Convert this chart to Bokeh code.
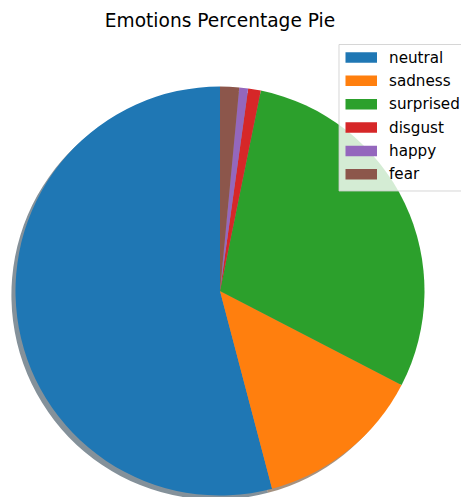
import numpy as np
from bokeh.plotting import figure
from bokeh.models import ColumnDataSource, Range1d
from bokeh.core.properties import value
from bokeh.embed import file_html
from bokeh.resources import INLINE

# Share of each emotion, in percent
emotions = ["neutral", "sadness", "surprised", "disgust", "happy", "fear"]
percent = [54.1, 13.3, 29.4, 1.0, 0.7, 1.5]
colors = ["#1f77b4", "#ff7f0e", "#2ca02c", "#d62728", "#9467bd", "#8c564b"]
title_text = "Emotions Percentage Pie"

W, H = 461, 497

def sy(y_screen):
    # canvas coordinates are pixels with y measured upward
    return H - y_screen

# pie geometry (pixels)
cx, cy, r = 219.5, sy(290.5), 204.5
shadow_dx, shadow_dy = -0.02 * r, -0.02 * r

frac = np.array(percent) / np.sum(percent)
ends = 90.0 + 360.0 * np.cumsum(frac)
starts = ends - 360.0 * frac

def darken(hex_color, k=0.3):
    h = hex_color.lstrip("#")
    rgb = [int(h[i:i + 2], 16) for i in (0, 2, 4)]
    return "#%02x%02x%02x" % tuple(int(c * k) for c in rgb)

src = ColumnDataSource(dict(
    emotion=emotions, start=starts, end=ends, color=colors,
    shadow=[darken(c) for c in colors],
))

p = figure(width=W, height=H, x_range=Range1d(0, W), y_range=Range1d(0, H),
           output_backend="svg", toolbar_location=None,
           x_axis_type=None, y_axis_type=None, min_border=0)
p.grid.visible = False
p.outline_line_color = None
p.background_fill_color = "white"
p.border_fill_color = "white"

# drop shadow under the pie
p.wedge(x=cx + shadow_dx, y=cy + shadow_dy, radius=r, start_angle="start",
        end_angle="end", start_angle_units="deg", end_angle_units="deg",
        direction="anticlock", fill_color="shadow", fill_alpha=0.5,
        line_color=None, source=src)

# pie slices, counter-clockwise from the top
p.wedge(x=cx, y=cy, radius=r, start_angle="start", end_angle="end",
        start_angle_units="deg", end_angle_units="deg",
        direction="anticlock", fill_color="color", line_color=None, source=src)

# title
p.text(x=[219.5], y=[sy(19.5)], text=[title_text], text_font=value("DejaVu Sans"),
       text_font_size="18.6px", text_align="center", text_baseline="middle",
       text_color="black")

# legend box
lx0, lx1, ly0, ly1 = 338.5, 472, 44, 190.5
p.quad(left=[lx0], right=[lx1], top=[sy(ly0)], bottom=[sy(ly1)],
       fill_color="white", fill_alpha=0.8, line_color="#cccccc",
       line_alpha=0.8, line_width=1)

row_y = [sy(57 + 23.35 * i) for i in range(len(emotions))]
leg = ColumnDataSource(dict(
    emotion=emotions, color=colors, y=row_y,
    top=[y + 5.25 for y in row_y], bottom=[y - 5.25 for y in row_y],
))
p.quad(left=345, right=376.5, top="top", bottom="bottom",
       fill_color="color", line_color=None, source=leg)
p.text(x=388.5, y="y", text="emotion", text_font=value("DejaVu Sans"),
       text_font_size="15.2px", text_baseline="middle", text_color="black",
       source=leg)

open("out.html", "w").write(file_html(p, INLINE))
